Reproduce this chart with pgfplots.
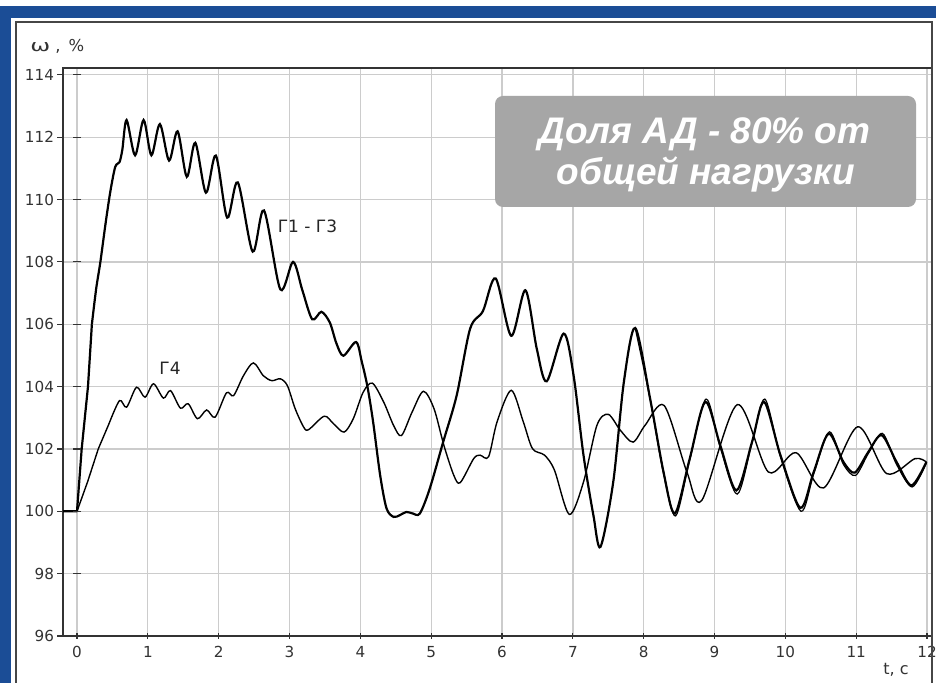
\documentclass[border=0pt]{standalone}
\usepackage{fontspec}
\setmainfont{DejaVu Sans}
\newfontfamily\boxfont{Liberation Sans}
\usepackage{pgfplots}
\pgfplotsset{compat=1.18}
\definecolor{bandblue}{RGB}{27,77,150}
\definecolor{gridgray}{RGB}{204,204,204}
\definecolor{boxgray}{RGB}{166,166,166}
\definecolor{framegray}{RGB}{70,70,70}
\begin{document}
\begin{tikzpicture}
\path[use as bounding box] (0,0) rectangle (468pt,341.5pt);
\clip (0,0) rectangle (468pt,341.5pt);
\begin{scope}[x=0.5pt,y=-0.5pt,yshift=341.5pt]
\fill[white] (0,0) rectangle (936,683);
\fill[bandblue] (0,6) rectangle (936,17.7);
\fill[bandblue] (0,6) rectangle (11,690);
\fill[white] (16,22) rectangle (932,700);
\end{scope}
\begin{axis}[
  at={(31.5pt,23.5pt)}, anchor=south west,
  scale only axis, width=434.5pt, height=284pt,
  xmin=-0.1977, xmax=12.07, ymin=96, ymax=114.22,
  xtick={0,1,...,12}, ytick={96,98,...,114},
  grid=major, major grid style={gridgray, line width=0.65pt},
  axis line style={black!80, line width=1pt},
  xtick pos=left, ytick pos=left,
  xtick align=center, ytick align=outside,
  major tick length=3pt,
  tick style={black!80, line width=0.6pt},
  ticklabel style={font=\fontsize{7.6}{9}\selectfont, text=black!80},
  yticklabel style={xshift=2pt},
  /pgf/number format/assume math mode=true,
]
\addplot[only marks, mark=-, mark size=2pt, mark options={black!80, line width=0.6pt}]
 coordinates {(0,98)(0,100)(0,102)(0,104)(0,106)(0,108)(0,110)(0,112)(0,114)};
% G1 - G3, initial rise
\addplot[black, line width=1.1pt, line join=round] coordinates {
(-0.2,100)(0,100)(0.066,102)(0.155,104)(0.21,106)
};
% G1 - G3
\addplot[black, line width=1.1pt, smooth, tension=0.5] coordinates {
(0.21,106)(0.27,107.13)(0.33,108)(0.40,109.18)
(0.47,110.25)(0.54,111.05)(0.60,111.2)(0.64,111.6)(0.70,112.55)(0.82,111.42)(0.94,112.55)
(1.05,111.42)(1.17,112.42)(1.30,111.25)(1.42,112.19)(1.55,110.73)(1.67,111.82)(1.82,110.22)
(1.96,111.41)(2.12,109.42)(2.27,110.55)(2.48,108.33)(2.64,109.65)(2.87,107.12)(3.05,108.0)
(3.18,107.1)(3.32,106.16)(3.45,106.40)(3.57,106.05)(3.66,105.4)(3.76,104.99)(3.94,105.43)
(4.02,104.8)(4.10,104.0)(4.18,102.87)(4.28,101.15)(4.37,100.09)(4.47,99.82)(4.56,99.88)
(4.65,99.98)(4.74,99.93)(4.84,99.93)(4.98,100.73)(5.17,102.23)(5.36,103.72)(5.55,105.86)
(5.73,106.42)(5.91,107.47)(6.13,105.63)(6.33,107.09)(6.49,105.22)(6.63,104.17)(6.87,105.70)
(7.01,104.36)(7.15,101.80)(7.29,99.87)(7.39,98.86)(7.57,100.94)(7.72,104.15)(7.88,105.88)
(8.09,103.62)(8.28,101.26)(8.44,99.93)(8.65,101.69)(8.87,103.51)(9.08,102.12)(9.31,100.67)
(9.53,102.23)(9.70,103.51)(9.93,101.80)(10.21,100.11)(10.40,101.26)(10.61,102.49)(10.82,101.58)
(10.98,101.24)(11.17,101.9)(11.36,102.44)(11.57,101.58)(11.78,100.83)(11.99,101.58)
};
% second trace of the group, diverging slightly late in the run
\addplot[black, line width=0.6pt, smooth, tension=0.5] coordinates {
(7.88,105.88)(8.09,103.6)(8.28,101.2)(8.45,99.85)(8.65,101.65)(8.88,103.6)(9.08,102.05)
(9.32,100.55)(9.53,102.2)(9.71,103.6)(9.93,101.75)(10.22,100.0)(10.40,101.2)(10.62,102.55)
(10.82,101.5)(10.99,101.15)(11.17,101.85)(11.37,102.5)(11.57,101.5)(11.79,100.78)(11.99,101.55)
};
% G4, initial rise
\addplot[black, line width=0.7pt, line join=round] coordinates {
(-0.2,100)(0,100)(0.15,100.95)(0.3,102.0)(0.45,102.8)
};
% G4
\addplot[black, line width=0.7pt, smooth, tension=0.5] coordinates {
(0.45,102.8)(0.60,103.55)(0.70,103.34)(0.84,103.98)
(0.96,103.66)(1.08,104.09)(1.22,103.63)(1.32,103.87)(1.46,103.31)(1.57,103.45)(1.70,102.97)
(1.83,103.25)(1.95,103.02)(2.11,103.80)(2.21,103.71)(2.35,104.35)(2.49,104.76)(2.63,104.35)
(2.75,104.19)(2.87,104.25)(2.97,104.03)(3.08,103.29)(3.20,102.70)(3.27,102.62)(3.49,103.05)
(3.62,102.81)(3.77,102.54)(3.90,102.97)(4.04,103.82)(4.17,104.11)(4.33,103.5)(4.47,102.75)
(4.58,102.43)(4.73,103.18)(4.89,103.85)(5.04,103.29)(5.18,102.11)(5.32,101.15)(5.41,100.92)
(5.60,101.69)(5.69,101.80)(5.81,101.75)(5.93,102.87)(6.13,103.88)(6.30,102.87)(6.43,102.01)
(6.60,101.80)(6.74,101.32)(6.95,99.90)(7.15,100.94)(7.34,102.76)(7.50,103.11)(7.67,102.60)
(7.85,102.22)(8.02,102.76)(8.29,103.39)(8.61,101.26)(8.82,100.35)(9.32,103.42)(9.76,101.26)
(10.15,101.88)(10.54,100.75)(11.02,102.71)(11.43,101.21)(11.83,101.69)(11.99,101.58)
};
\end{axis}
\begin{scope}[x=0.5pt,y=-0.5pt,yshift=341.5pt]
\draw[framegray, line width=0.6pt] (16,700) -- (16,22) -- (932,22) -- (932,700);
\fill[boxgray, rounded corners=4pt] (495,96) rectangle (916,207);
\node[anchor=base, text=white, font=\boxfont\bfseries\itshape\fontsize{18.5}{20}\selectfont, inner sep=0pt] at (704.5,143.5) {Доля АД - 80\% от};
\node[anchor=base, text=white, font=\boxfont\bfseries\itshape\fontsize{18.5}{20}\selectfont, inner sep=0pt] at (706,185) {общей нагрузки};
\node[anchor=base west, inner sep=0pt, text=black!80, font=\fontsize{8.2}{9}\selectfont] at (30,52) {\scalebox{1.45}[1]{ω}\hspace{2.5pt},\hspace{4pt}\%};
\node[inner sep=0pt, text=black!80, font=\fontsize{8}{9}\selectfont] at (896,670) {t, c};
\node[inner sep=0pt, text=black!85, font=\fontsize{8.5}{9}\selectfont] at (307.5,226) {Г1 - Г3};
\node[inner sep=0pt, text=black!85, font=\fontsize{8.5}{9}\selectfont] at (170,368.5) {Г4};
\end{scope}
\end{tikzpicture}
\end{document}
